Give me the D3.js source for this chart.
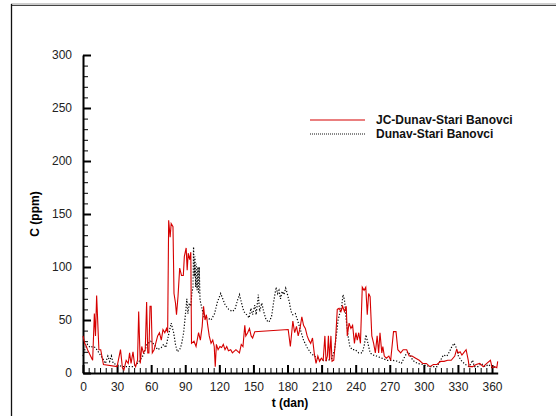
<!DOCTYPE html>
<html>
<head>
<meta charset="utf-8">
<script src="https://cdn.jsdelivr.net/npm/d3@7"></script>
<style>
  body { margin: 0; background: #fff; }
  svg { display: block; }
</style>
</head>
<body>
<div id="chart"></div>
<script>
var seriesNames = ["JC-Dunav-Stari Banovci", "Dunav-Stari Banovci"];

var xTicks = [0, 30, 60, 90, 120, 150, 180, 210, 240, 270, 300, 330, 360];
var yTicks = [0, 50, 100, 150, 200, 250, 300];

// JC-Dunav-Stari Banovci (red)
var redDays = [0, 1.5, 3, 4, 8.5, 10, 11, 12, 14, 15.6, 18, 30, 33, 34.7, 36, 38, 39.8, 41, 42.3, 44,
  45.4, 46.3, 48, 49, 50.4, 51.7, 53.2, 54.8, 56, 57, 58, 59, 60, 61, 62.6, 64, 65.7, 67.3, 68.9, 70.4,
  72, 73.5, 74.5, 75.4, 76.7, 77.6, 79.2, 80.1, 81.4, 82.3, 83.6, 85.1, 86.7, 88.3, 89.2, 90.8, 91.7, 92.6, 93.9, 94.9,
  95.5, 97.7, 99.5, 101.7, 103.3, 104.9, 106.1, 107.4, 108.6, 109.9, 111.1, 112.7, 114.2, 115.5, 116.4, 117.4, 118.9, 120.5, 122, 123.5,
  125, 126.5, 128, 130, 131.5, 134.6, 137.7, 139.3, 140.8, 142.4, 143.3, 144.9, 146.5, 148, 149.3, 151.2, 180.6, 182.5, 184.7, 186.3,
  187.9, 189.4, 191, 192.6, 194.1, 195.7, 197.3, 198.8, 200.4, 202, 203.5, 205.1, 206.7, 208.2, 209.8, 211.4, 212.9, 213.9, 215.1, 216,
  217, 218.2, 219.2, 220.7, 222.3, 223.8, 225.4, 227, 228.5, 230.1, 231.7, 232.6, 234.2, 235.8, 237.3, 238.9, 240.2, 241.4, 242.7, 244.2,
  245.8, 247.4, 248.9, 250.2, 251.4, 252.7, 254.2, 255.8, 257.3, 258.9, 260.2, 261.4, 263, 263.9, 265.2, 267, 269.2, 270.8, 273.3, 275.5,
  277.1, 279.6, 281.8, 284.9, 287.1, 289.6, 292.8, 295.9, 299, 302.2, 305.3, 308.4, 311.6, 314.7, 317.8, 321, 324.1, 327.2, 328.8, 330.4,
  331.9, 333.5, 335, 337.2, 339.1, 339.8, 342.9, 346, 349.2, 352.3, 355.4, 358.6, 360.1, 362.3, 364.2, 365];
var redValues = [35, 28, 25, 22, 12, 56, 35, 73, 22, 22, 8, 6, 22, 5, 3, 12, 9, 19, 9, 20,
  8, 6, 12, 58, 9, 25, 19, 22, 67, 19, 19, 63, 63, 19, 22, 28, 35, 38, 31, 41,
  38, 42, 38, 144, 128, 141, 138, 75, 66, 55, 72, 99, 92, 92, 110, 118, 97, 113, 107, 114,
  28, 30, 25, 38, 31, 44, 63, 50, 55, 44, 35, 28, 31, 25, 6, 27, 22, 25, 24, 27,
  22, 25, 21, 22, 19, 22, 19, 27, 25, 45, 35, 38, 42, 35, 33, 39, 41, 25, 49, 38,
  44, 35, 42, 53, 45, 42, 35, 31, 28, 33, 19, 9, 16, 11, 14, 12, 35, 11, 16, 35,
  12, 35, 11, 12, 31, 60, 61, 58, 63, 58, 63, 35, 47, 42, 45, 28, 38, 31, 38, 28,
  81, 78, 81, 55, 75, 72, 35, 28, 19, 35, 19, 38, 19, 25, 16, 14, 16, 12, 39, 39,
  22, 19, 22, 22, 16, 16, 14, 12, 9, 9, 6, 8, 8, 11, 11, 12, 12, 16, 22, 19,
  20, 17, 19, 22, 12, 6, 6, 8, 9, 6, 9, 12, 5, 6, 5, 11];

// Dunav-Stari Banovci (black dotted)
var blackDays = [0, 1.6, 3.8, 6.3, 8.5, 11, 14.1, 17.2, 19.7, 21.9, 23.5, 25, 26.6, 29.7, 34.4, 39.1, 43.8, 46.9, 50.1, 53.2,
  56.3, 59.5, 62.6, 65.7, 68.9, 71, 72.9, 75.1, 77.6, 79.8, 81.4, 83, 85.1, 86.7, 88.6, 90.2, 91.4, 92.3, 93.6, 94.9,
  95.8, 96.8, 97.3, 97.9, 98.5, 99.2, 99.8, 100.4, 101.1, 101.7, 102.3, 103, 103.6, 104.9, 106.4, 109.6, 112.7, 115.8, 118.3, 121.2,
  123, 125.2, 128.3, 131.5, 133.7, 136.1, 137.7, 139.3, 141.5, 144, 146.2, 147.8, 149.3, 151.2, 152.4, 154.3, 155.5, 157.4, 159, 161.2,
  163.7, 165.9, 168.1, 170, 171.3, 172.5, 173.8, 175.3, 176.9, 178.4, 180, 181.6, 183.1, 184.7, 186.9, 188.8, 191, 194.1, 197.3, 200.4,
  203.5, 206.7, 209.8, 212.9, 216, 219.2, 221.4, 223.3, 224.5, 226.4, 227.7, 228.9, 230.1, 231.7, 233.3, 234.8, 237, 239.5, 242.7, 245.8,
  247.7, 249, 250.8, 252.7, 255.2, 258.3, 263, 267.7, 272.4, 277.1, 280.2, 283.4, 285.9, 288, 290.2, 294.3, 299, 305.3, 311.6, 314.7,
  317.2, 320.3, 322.5, 324.7, 326.6, 328.5, 330.4, 333.5, 336.6, 339.8, 342.9, 344.5, 347.6, 350.7, 353.9, 357, 360.1, 363.2];
var blackValues = [16, 22, 27, 24, 25, 24, 19, 14, 9, 16, 11, 16, 9, 8, 6, 6, 6, 8, 12, 17,
  27, 30, 27, 22, 24, 27, 24, 35, 47, 38, 27, 20, 22, 27, 38, 56, 70, 56, 66, 63,
  75, 81, 119, 91, 110, 81, 103, 78, 100, 75, 100, 69, 66, 60, 53, 52, 50, 56, 67, 75,
  70, 64, 60, 58, 60, 69, 74, 67, 58, 55, 52, 61, 55, 64, 55, 74, 58, 66, 58, 50,
  48, 53, 69, 81, 75, 78, 70, 77, 74, 80, 74, 67, 58, 55, 56, 50, 42, 31, 24, 19,
  16, 14, 12, 12, 12, 14, 22, 38, 50, 58, 63, 74, 69, 50, 35, 25, 22, 22, 19, 19,
  27, 36, 28, 19, 17, 16, 14, 12, 12, 11, 9, 16, 20, 17, 12, 9, 8, 6, 6, 12,
  17, 16, 20, 25, 28, 24, 16, 11, 8, 6, 12, 6, 6, 9, 6, 8, 5, 6];

var width = 556, height = 416;

var svg = d3.select("#chart").append("svg")
  .attr("width", width)
  .attr("height", height);

// frame
svg.append("line").attr("x1", 11).attr("x2", width).attr("y1", 4).attr("y2", 4)
  .attr("stroke", "#9a9a9a").attr("stroke-width", 1);
svg.append("line").attr("x1", 11).attr("x2", width).attr("y1", 5.5).attr("y2", 5.5)
  .attr("stroke", "#444").attr("stroke-width", 1.2);
svg.append("line").attr("x1", 11.5).attr("x2", 11.5).attr("y1", 4).attr("y2", height)
  .attr("stroke", "#111").attr("stroke-width", 1.3);

var x = d3.scaleLinear().domain([0, 365]).range([83, 497.7]);
var y = d3.scaleLinear().domain([0, 300]).range([373, 55]);

var font = "'Liberation Sans', Arial, Helvetica, sans-serif";

// minor ticks
var xMinor = d3.range(0, 365, 5).filter(function(d) { return d % 30 != 0; });
var yMinor = d3.range(0, 300, 10).filter(function(d) { return d % 50 != 0; });

svg.append("g")
  .attr("transform", "translate(0," + y(0) + ")")
  .call(d3.axisBottom(x).tickValues(xMinor).tickSize(-5).tickFormat(""))
  .call(function(g) { g.select(".domain").remove(); })
  .selectAll("line").attr("stroke", "#000").attr("stroke-width", 1);

svg.append("g")
  .attr("transform", "translate(" + x(0) + ",0)")
  .call(d3.axisLeft(y).tickValues(yMinor).tickSize(-5).tickFormat(""))
  .call(function(g) { g.select(".domain").remove(); })
  .selectAll("line").attr("stroke", "#000").attr("stroke-width", 1);

// major axes
var xAxis = svg.append("g")
  .attr("transform", "translate(0," + y(0) + ")")
  .call(d3.axisBottom(x).tickValues(xTicks).tickSize(-8).tickSizeOuter(0).tickPadding(9));
var yAxis = svg.append("g")
  .attr("transform", "translate(" + x(0) + ",0)")
  .call(d3.axisLeft(y).tickValues(yTicks).tickSize(-8).tickSizeOuter(0).tickPadding(11));

[xAxis, yAxis].forEach(function(g) {
  g.select(".domain").attr("stroke", "#000").attr("stroke-width", 2);
  g.selectAll(".tick line").attr("stroke", "#000").attr("stroke-width", 2);
  g.selectAll(".tick text").attr("fill", "#222")
    .style("font-family", font).style("font-size", "12px");
});

// series
var redLine = d3.line()
  .x(function(d, i) { return x(redDays[i]); })
  .y(function(d) { return y(d); });
var blackLine = d3.line()
  .x(function(d, i) { return x(blackDays[i]); })
  .y(function(d) { return y(d); });

svg.append("path")
  .attr("d", blackLine(blackValues))
  .attr("fill", "none")
  .attr("stroke", "#000")
  .attr("stroke-width", 1.2)
  .attr("stroke-dasharray", "1.2,1.8");

svg.append("path")
  .attr("d", redLine(redValues))
  .attr("fill", "none")
  .attr("stroke", "#d60000")
  .attr("stroke-width", 1.1);

// axis titles
svg.append("text")
  .attr("x", 290).attr("y", 407)
  .attr("text-anchor", "middle")
  .style("font-family", font).style("font-size", "12px").style("font-weight", "bold")
  .text("t (dan)");

svg.append("text")
  .attr("transform", "translate(39,214) rotate(-90)")
  .attr("text-anchor", "middle")
  .style("font-family", font).style("font-size", "12px").style("font-weight", "bold")
  .text("C (ppm)");

// legend
var legend = svg.append("g");
legend.append("line").attr("x1", 310).attr("x2", 365).attr("y1", 120).attr("y2", 120)
  .attr("stroke", "#d60000").attr("stroke-width", 1.1);
legend.append("line").attr("x1", 310).attr("x2", 365).attr("y1", 134).attr("y2", 134)
  .attr("stroke", "#111").attr("stroke-width", 1).attr("stroke-dasharray", "1,1");
legend.selectAll("text")
  .data(seriesNames)
  .enter().append("text")
  .attr("x", 376)
  .attr("y", function(d, i) { return 124 + i * 14; })
  .style("font-family", font).style("font-size", "12px").style("font-weight", "bold")
  .attr("fill", "#111")
  .text(function(d) { return d; });
</script>
</body>
</html>
